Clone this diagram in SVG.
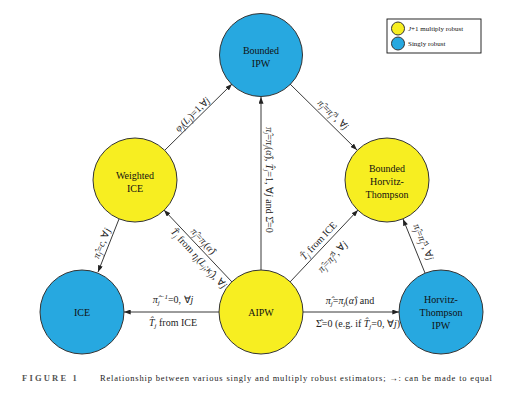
<svg xmlns="http://www.w3.org/2000/svg" width="521" height="400" viewBox="0 0 521 400">
<defs>
<marker id="ah" viewBox="0 0 8 6" refX="8" refY="3" markerWidth="7" markerHeight="5" markerUnits="userSpaceOnUse" orient="auto">
<path d="M0,0 L8,3 L0,6 z" fill="#222"/>
</marker>
<style>
.y{fill:#f7ee21;stroke:#333;stroke-width:1}
.b{fill:#27a8e0;stroke:#333;stroke-width:1}
.nl{font-family:"Liberation Serif",serif;font-size:10px;fill:#111;text-anchor:middle}
.e{stroke:#222;stroke-width:0.9;fill:none;marker-end:url(#ah)}
.m{font-family:"Liberation Serif",serif;font-size:10px;fill:#222;text-anchor:middle}
.i{font-style:italic}
.s{font-size:7px;font-style:italic}
.lg{font-family:"Liberation Serif",serif;font-size:7px;fill:#111}
</style>
</defs>
<rect width="521" height="400" fill="#fff"/>

<g id="legend">
<rect x="387" y="19" width="94" height="34" fill="#fff" stroke="#111" stroke-width="0.9"/>
<circle cx="398" cy="28.5" r="6.5" class="y"/>
<circle cx="398" cy="43.5" r="6.5" class="b"/>
<text x="408" y="31" class="lg"><tspan font-style="italic">J</tspan>+1 multiply robust</text>
<text x="408" y="46" class="lg">Singly robust</text>
</g>

<g id="connectors">
<line x1="165" y1="150" x2="232" y2="84" class="e"/>
<line x1="261" y1="270" x2="261" y2="97" class="e"/>
<line x1="290" y1="84" x2="357" y2="150" class="e"/>
<line x1="232" y1="282" x2="164" y2="210" class="e"/>
<line x1="290" y1="282" x2="358" y2="210" class="e"/>
<line x1="119" y1="219" x2="98" y2="272" class="e"/>
<line x1="425" y1="273" x2="403" y2="219" class="e"/>
<line x1="219" y1="312" x2="124" y2="312" class="e"/>
<line x1="303" y1="312" x2="399" y2="312" class="e"/>

<text class="m" transform="translate(194.7,116.6) rotate(-44.6)"><tspan class="i">φ</tspan><tspan class="s" dy="2">j</tspan><tspan dy="-2">(</tspan><tspan class="i">L</tspan><tspan class="s" dy="2">j</tspan><tspan dy="-2">)=1,∀</tspan><tspan class="i">j</tspan></text>

<text class="m" transform="translate(266,180) rotate(90)"><tspan class="i">π̂</tspan><tspan class="s" dy="2">j</tspan><tspan dy="-2">=</tspan><tspan class="i">π</tspan><tspan class="s" dy="2">j</tspan><tspan dy="-2">(</tspan><tspan class="i">α̂</tspan><tspan>), </tspan><tspan class="i">T̂</tspan><tspan class="s" dy="2">j</tspan><tspan dy="-2">=1, ∀</tspan><tspan class="i">j</tspan><tspan> and Σ̂=0</tspan></text>

<text class="m" transform="translate(330.8,117) rotate(44.6)"><tspan class="i">π̂</tspan><tspan class="s" dy="2">j</tspan><tspan dy="-2">=</tspan><tspan class="i">π̂</tspan><tspan class="s" dy="2">j</tspan><tspan class="s" dy="-5">Δ</tspan><tspan dy="3">, ∀</tspan><tspan class="i">j</tspan></text>

<text class="m" transform="translate(201,243.3) rotate(47.5)"><tspan class="i">π̂</tspan><tspan class="s" dy="2">j</tspan><tspan dy="-2">=</tspan><tspan class="i">π</tspan><tspan class="s" dy="2">j</tspan><tspan dy="-2">(</tspan><tspan class="i">α̂</tspan><tspan>)</tspan></text>
<text class="m" transform="translate(196.4,260.6) rotate(47.5)"><tspan class="i">T̂</tspan><tspan class="s" dy="2">j</tspan><tspan dy="-2"> from </tspan><tspan class="i">η</tspan><tspan class="s" dy="2">j</tspan><tspan dy="-2">(</tspan><tspan class="i">L</tspan><tspan class="s" dy="2">j</tspan><tspan dy="-2">;</tspan><tspan class="i">κ̂</tspan><tspan class="s" dy="2">j</tspan><tspan dy="-2">), ∀</tspan><tspan class="i">j</tspan></text>

<text class="m" transform="translate(321,243) rotate(-46.6)"><tspan class="i">T̂</tspan><tspan class="s" dy="2">j</tspan><tspan dy="-2"> from ICE</tspan></text>
<text class="m" transform="translate(335,259) rotate(-46.6)"><tspan class="i">π̂</tspan><tspan class="s" dy="2">j</tspan><tspan dy="-2">=</tspan><tspan class="i">π̂</tspan><tspan class="s" dy="2">j</tspan><tspan class="s" dy="-5">Δ</tspan><tspan dy="3">, ∀</tspan><tspan class="i">j</tspan></text>

<text class="m" transform="translate(104.8,244.5) rotate(-68)"><tspan class="i">π̂</tspan><tspan class="s" dy="2">j</tspan><tspan dy="-2">=</tspan><tspan class="i">c</tspan><tspan>, ∀</tspan><tspan class="i">j</tspan></text>

<text class="m" transform="translate(420.5,243.4) rotate(67.7)"><tspan class="i">π̂</tspan><tspan class="s" dy="2">j</tspan><tspan dy="-2">=</tspan><tspan class="i">π̂</tspan><tspan class="s" dy="2">j</tspan><tspan class="s" dy="-5">Δ</tspan><tspan dy="3">, ∀</tspan><tspan class="i">j</tspan></text>

<text class="m" x="173" y="303"><tspan class="i">π̂</tspan><tspan class="s" dy="2">j</tspan><tspan class="s" dy="-6">−1</tspan><tspan dy="4">=0, ∀</tspan><tspan class="i">j</tspan></text>
<text class="m" x="173" y="326"><tspan class="i">T̂</tspan><tspan class="s" dy="2">j</tspan><tspan dy="-2"> from ICE</tspan></text>

<text class="m" x="350" y="304"><tspan class="i">π̂</tspan><tspan class="s" dy="2">j</tspan><tspan dy="-2">=</tspan><tspan class="i">π</tspan><tspan class="s" dy="2">j</tspan><tspan dy="-2">(</tspan><tspan class="i">α̂</tspan><tspan>) and</tspan></text>
<text class="m" x="358" y="327"><tspan>Σ̂=0 (e.g. if </tspan><tspan class="i">T̂</tspan><tspan class="s" dy="2">j</tspan><tspan dy="-2">=0, ∀</tspan><tspan class="i">j</tspan><tspan>)</tspan></text>
</g>

<g id="bounded-ipw">
<circle cx="261" cy="55" r="41.5" class="b"/>
<text class="nl" x="261" y="54">Bounded</text>
<text class="nl" x="261" y="67">IPW</text>
</g>
<g id="weighted-ice">
<circle cx="135" cy="180" r="42" class="y"/>
<text class="nl" x="135" y="179">Weighted</text>
<text class="nl" x="135" y="192">ICE</text>
</g>
<g id="bounded-ht">
<circle cx="387" cy="180" r="42" class="y"/>
<text class="nl" x="387" y="172">Bounded</text>
<text class="nl" x="387" y="185">Horvitz-</text>
<text class="nl" x="387" y="198">Thompson</text>
</g>
<g id="ice">
<circle cx="82" cy="312" r="42" class="b"/>
<text class="nl" x="82" y="316">ICE</text>
</g>
<g id="aipw">
<circle cx="261" cy="312" r="42" class="y"/>
<text class="nl" x="261" y="316">AIPW</text>
</g>
<g id="ht-ipw">
<circle cx="441" cy="312" r="42" class="b"/>
<text class="nl" x="441" y="303">Horvitz-</text>
<text class="nl" x="441" y="316">Thompson</text>
<text class="nl" x="441" y="329">IPW</text>
</g>

<g id="caption">
<text x="22" y="381" font-family="Liberation Serif,serif" font-size="8.5" font-weight="bold" letter-spacing="2.2" fill="#555">FIGURE 1</text>
<text x="100" y="381" font-family="Liberation Serif,serif" font-size="8.5" fill="#222" textLength="392" lengthAdjust="spacing">Relationship between various singly and multiply robust estimators; →: can be made to equal</text>
</g>
</svg>
